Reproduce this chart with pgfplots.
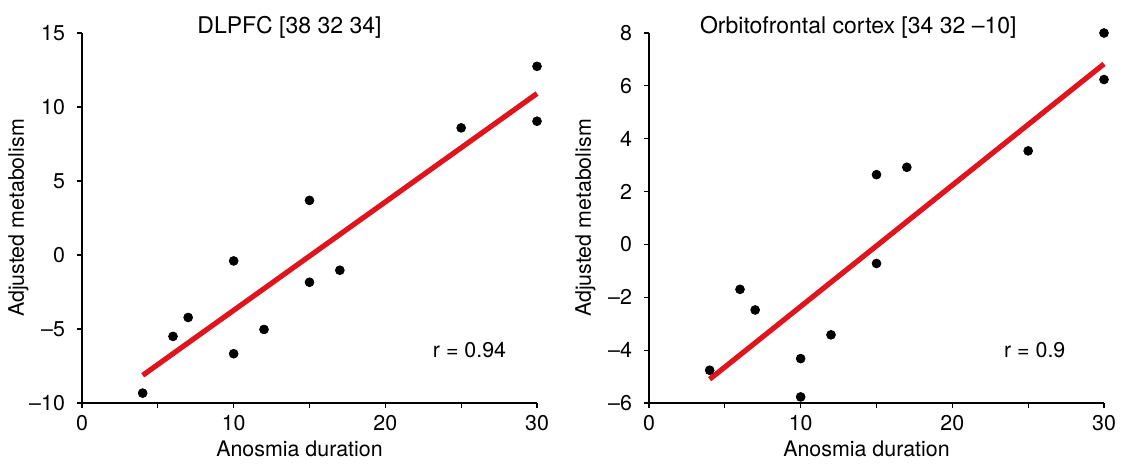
\documentclass[border=0pt]{standalone}
\usepackage{fontspec}
\setmainfont{TeX Gyre Heros}
\usepackage{pgfplots}
\pgfplotsset{compat=1.18}
\definecolor{fitred}{RGB}{224,20,28}

\pgfplotsset{
  panel/.style={
    scale only axis, width=227.5pt, height=185pt,
    axis lines=left, axis line style={-, line width=0.6pt},
    tick align=outside, tick style={line width=0.6pt, black}, major tick length=2.5pt,
    xmin=0, xmax=30, xtick={0,5,...,30}, xticklabels={0,,10,,20,,30},
    font=\fontsize{10.7}{12}\selectfont,
    yticklabel style={xshift=-2.5pt},
    xlabel={Anosmia duration}, ylabel={Adjusted metabolism},
    xlabel style={at={(axis description cs:0.478,-0.124)}, anchor=center},
    ylabel style={at={(axis description cs:-0.14,0.5)}, anchor=center},
    every axis title shift=0pt,
    title style={font=\fontsize{11.5}{13}\selectfont, anchor=base},
    clip=false,
  },
  dots/.style={only marks, mark=*, mark size=2.2pt, black},
  fit/.style={fitred, line width=2.6pt, no marks},
}

\begin{document}
\begin{tikzpicture}
\useasboundingbox (-41pt,-30pt) rectangle (521pt,201.5pt);

% DLPFC
\begin{axis}[panel, at={(0pt,0pt)},
    ymin=-10, ymax=15, ytick={-10,-5,...,15}, yticklabels={–10,–5,0,5,10,15},
    title={DLPFC [38 32 34]}, title style={at={(axis description cs:0.456,1.0)}}]
  \addplot[dots] table {
    x y
    4 -9.33
    6 -5.5
    7 -4.22
    10 -0.4
    10 -6.67
    12 -5.03
    15 3.69
    15 -1.84
    17 -1.03
    25 8.59
    30 12.75
    30 9.04
  };
  \addplot[fit] coordinates {(4,-8.13) (30,10.91)};
  \node[anchor=east, inner sep=0pt] at (axis description cs:0.933,0.143) {r = 0.94};
\end{axis}

% orbitofrontal
\begin{axis}[panel, at={(283.5pt,0pt)},
    ymin=-6, ymax=8, ytick={-6,-4,...,8}, yticklabels={–6,–4,–2,0,2,4,6,8},
    title={Orbitofrontal cortex [34 32 –10]}, title style={at={(axis description cs:0.46,1.0)}}]
  \addplot[dots] table {
    x y
    4 -4.76
    6 -1.70
    7 -2.48
    10 -4.32
    10 -5.77
    12 -3.42
    15 2.64
    15 -0.72
    17 2.92
    25 3.54
    30 8.0
    30 6.24
  };
  \addplot[fit] coordinates {(4,-5.1) (30,6.83)};
  \node[anchor=east, inner sep=0pt] at (axis description cs:0.916,0.143) {r = 0.9};
\end{axis}
\end{tikzpicture}
\end{document}
